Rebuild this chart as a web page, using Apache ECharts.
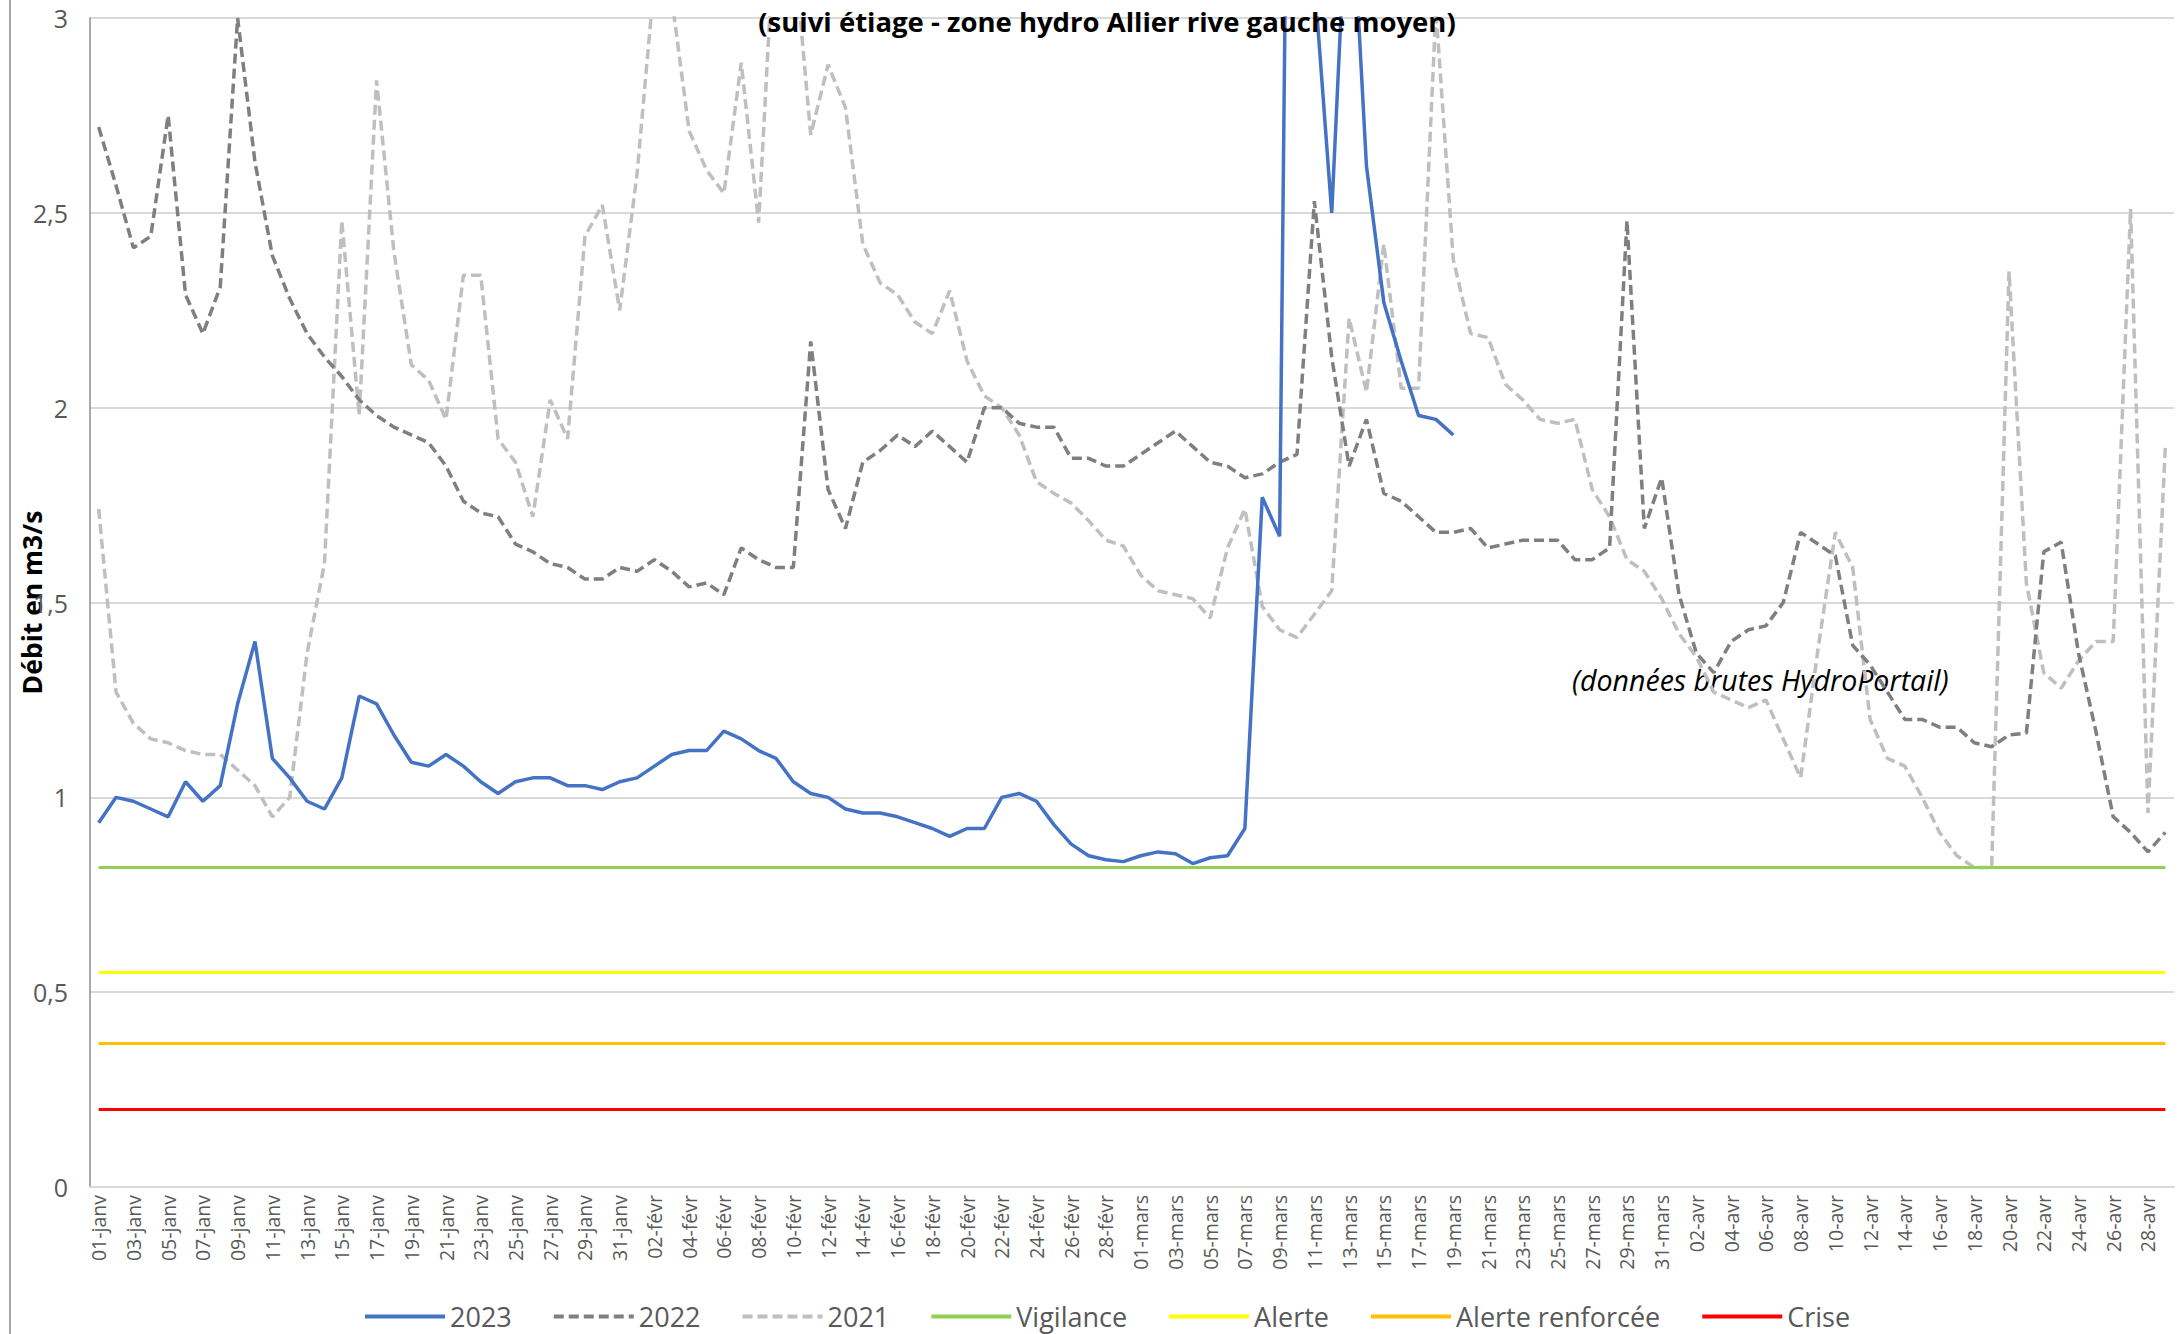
<!DOCTYPE html>
<html>
<head>
<meta charset="utf-8">
<script src="https://cdn.jsdelivr.net/npm/echarts@6/dist/echarts.min.js"></script>
<style>
html,body{margin:0;padding:0;background:#fff;}
#chart{width:2181px;height:1334px;}
</style>
</head>
<body>
<div id="chart"></div>
<script>
// Months used for the daily category axis (leap-year template, as in the source sheet)
const months = [['janv', 31], ['févr', 29], ['mars', 31], ['avr', 29]];
const categories = [];
months.forEach(([m, n]) => { for (let d = 1; d <= n; d++) categories.push((d < 10 ? '0' : '') + d + '-' + m); });

const yTicks = [0, 0.5, 1, 1.5, 2, 2.5, 3];

// Débit journalier 2023 (m3/s), 01-janv .. 19-mars
const s2023 = [
  0.935, 1.00, 0.99, 0.97, 0.95, 1.04, 0.99, 1.03, 1.24, 1.40,
  1.10, 1.05, 0.99, 0.97, 1.05, 1.26, 1.24, 1.16, 1.09, 1.08,
  1.11, 1.08, 1.04, 1.01, 1.04, 1.05, 1.05, 1.03, 1.03, 1.02,
  1.04, 1.05, 1.08, 1.11, 1.12, 1.12, 1.17, 1.15, 1.12, 1.10,
  1.04, 1.01, 1.00, 0.97, 0.96, 0.96, 0.95, 0.935, 0.92, 0.90,
  0.92, 0.92, 1.00, 1.01, 0.99, 0.93, 0.88, 0.85, 0.84, 0.835,
  0.85, 0.86, 0.855, 0.83, 0.845, 0.85, 0.92, 1.77, 1.67, 6.0,
  3.1, 2.50, 3.45, 2.62, 2.27, 2.12, 1.98, 1.97, 1.93
];

// Débit journalier 2022 (m3/s)
const s2022 = [
  2.72, 2.57, 2.41, 2.44, 2.75, 2.29, 2.19, 2.31, 3.00, 2.63,
  2.39, 2.28, 2.19, 2.13, 2.08, 2.02, 1.98, 1.95, 1.93, 1.91,
  1.85, 1.76, 1.73, 1.72, 1.65, 1.63, 1.60, 1.59, 1.56, 1.56,
  1.59, 1.58, 1.61, 1.58, 1.54, 1.55, 1.52, 1.64, 1.61, 1.59,
  1.59, 2.17, 1.79, 1.69, 1.86, 1.89, 1.93, 1.90, 1.94, 1.90,
  1.86, 2.00, 2.00, 1.96, 1.95, 1.95, 1.87, 1.87, 1.85, 1.85,
  1.88, 1.91, 1.94, 1.90, 1.86, 1.85, 1.82, 1.83, 1.86, 1.88,
  2.53, 2.13, 1.85, 1.97, 1.78, 1.76, 1.72, 1.68, 1.68, 1.69,
  1.64, 1.65, 1.66, 1.66, 1.66, 1.61, 1.61, 1.64, 2.48, 1.69,
  1.82, 1.52, 1.37, 1.32, 1.40, 1.43, 1.44, 1.50, 1.68, 1.65,
  1.62, 1.39, 1.34, 1.27, 1.20, 1.20, 1.18, 1.18, 1.14, 1.13,
  1.16, 1.165, 1.63, 1.655, 1.37, 1.17, 0.95, 0.91, 0.86, 0.91
];

// Débit journalier 2021 (m3/s)
const s2021 = [
  1.74, 1.27, 1.19, 1.15, 1.14, 1.12, 1.11, 1.11, 1.07, 1.03,
  0.95, 1.00, 1.37, 1.60, 2.48, 1.98, 2.84, 2.40, 2.11, 2.07,
  1.97, 2.34, 2.34, 1.92, 1.86, 1.72, 2.02, 1.92, 2.44, 2.52,
  2.25, 2.60, 3.10, 3.05, 2.71, 2.61, 2.55, 2.885, 2.475, 3.30,
  3.20, 2.70, 2.88, 2.77, 2.42, 2.32, 2.29, 2.22, 2.19, 2.30,
  2.12, 2.03, 2.00, 1.93, 1.81, 1.78, 1.755, 1.71, 1.66, 1.645,
  1.57, 1.53, 1.52, 1.51, 1.46, 1.64, 1.74, 1.49, 1.43, 1.41,
  1.47, 1.53, 2.23, 2.04, 2.42, 2.05, 2.05, 3.02, 2.38, 2.19,
  2.18, 2.06, 2.02, 1.97, 1.96, 1.97, 1.79, 1.72, 1.61, 1.58,
  1.51, 1.42, 1.36, 1.27, 1.25, 1.23, 1.25, 1.15, 1.05, 1.38,
  1.68, 1.59, 1.20, 1.10, 1.08, 1.00, 0.91, 0.85, 0.82, 0.82,
  2.35, 1.55, 1.32, 1.28, 1.35, 1.40, 1.40, 2.51, 0.96, 1.90
];

// Seuils de gestion (m3/s)
const thresholdNames = ['Vigilance', 'Alerte', 'Alerte renforcée', 'Crise'];
const thresholdValues = [0.82, 0.55, 0.37, 0.20];
const thresholdColors = ['#92D050', '#FFFF00', '#FFC000', '#FF0000'];

const FONT = 'Open Sans';

const chart = echarts.init(document.getElementById('chart'), null, { renderer: 'svg' });

const thresholdSeries = thresholdNames.map((name, k) => ({
  name: name,
  type: 'line',
  data: [],
  symbol: 'none',
  color: thresholdColors[k],
  lineStyle: { color: thresholdColors[k], width: 3 },
  markLine: {
    silent: true,
    symbol: 'none',
    label: { show: false },
    lineStyle: { color: thresholdColors[k], width: 3, type: 'solid' },
    data: [[
      { coord: [categories[0], thresholdValues[k]] },
      { coord: [categories[categories.length - 1], thresholdValues[k]] }
    ]]
  }
}));

const option = {
  backgroundColor: '#ffffff',
  animation: false,
  title: {
    text: '(suivi étiage - zone hydro Allier rive gauche moyen)',
    left: 1102,
    textAlign: 'center',
    top: 2,
    textStyle: { fontFamily: FONT, fontWeight: 'bold', fontSize: 27.5, color: '#000000' }
  },
  legend: {
    left: 358,
    top: 1298,
    itemWidth: 80,
    itemHeight: 14,
    itemGap: 40,
    itemStyle: { opacity: 0 },
    lineStyle: { width: 4 },
    textStyle: { fontFamily: FONT, fontSize: 27, color: '#595959' },
    data: ['2023', '2022', '2021'].concat(thresholdNames)
  },
  grid: { left: 90, right: 7, top: 18, bottom: 147, containLabel: false, outerBoundsMode: 'none' },
  xAxis: {
    type: 'category',
    boundaryGap: true,
    data: categories,
    axisLine: { show: true, lineStyle: { color: '#D9D9D9', width: 2 } },
    axisTick: { show: false },
    axisLabel: {
      interval: 1,
      rotate: 90,
      margin: 8,
      fontFamily: FONT,
      fontSize: 19.5,
      color: '#595959'
    },
    splitLine: { show: false }
  },
  yAxis: {
    type: 'value',
    min: yTicks[0],
    max: yTicks[yTicks.length - 1],
    interval: 0.5,
    name: 'Débit en m3/s',
    nameLocation: 'middle',
    nameGap: 45,
    nameMoveOverlap: false,
    nameTextStyle: { fontFamily: FONT, fontWeight: 'bold', fontSize: 26.5, color: '#000000' },
    axisLine: { show: true, lineStyle: { color: '#8C8C8C', width: 1.5 } },
    axisTick: { show: false },
    axisLabel: {
      margin: 22,
      fontFamily: FONT,
      fontSize: 25,
      color: '#595959',
      formatter: v => String(v).replace('.', ',')
    },
    splitLine: { show: true, lineStyle: { color: '#D9D9D9', width: 2 } }
  },
  graphic: [
    {
      type: 'text',
      left: 1572,
      top: 665,
      style: {
        text: '(données brutes HydroPortail)',
        font: 'italic 28.5px "Open Sans"',
        fill: '#000000'
      }
    },
    {
      type: 'line',
      shape: { x1: 10, y1: 0, x2: 10, y2: 1334 },
      style: { stroke: '#A6A6A6', lineWidth: 2 }
    }
  ],
  series: [
    {
      name: '2023', type: 'line', data: s2023, symbol: 'none', clip: true,
      color: '#4472C4',
      lineStyle: { color: '#4472C4', width: 3.5 }, z: 5
    },
    {
      name: '2022', type: 'line', data: s2022, symbol: 'none', clip: true,
      color: '#7F7F7F',
      lineStyle: { color: '#7F7F7F', width: 3.5, type: [10, 5] }, z: 4
    },
    {
      name: '2021', type: 'line', data: s2021, symbol: 'none', clip: true,
      color: '#BFBFBF',
      lineStyle: { color: '#BFBFBF', width: 3.5, type: [10, 5] }, z: 3
    }
  ].concat(thresholdSeries)
};

chart.setOption(option);
</script>
</body>
</html>
